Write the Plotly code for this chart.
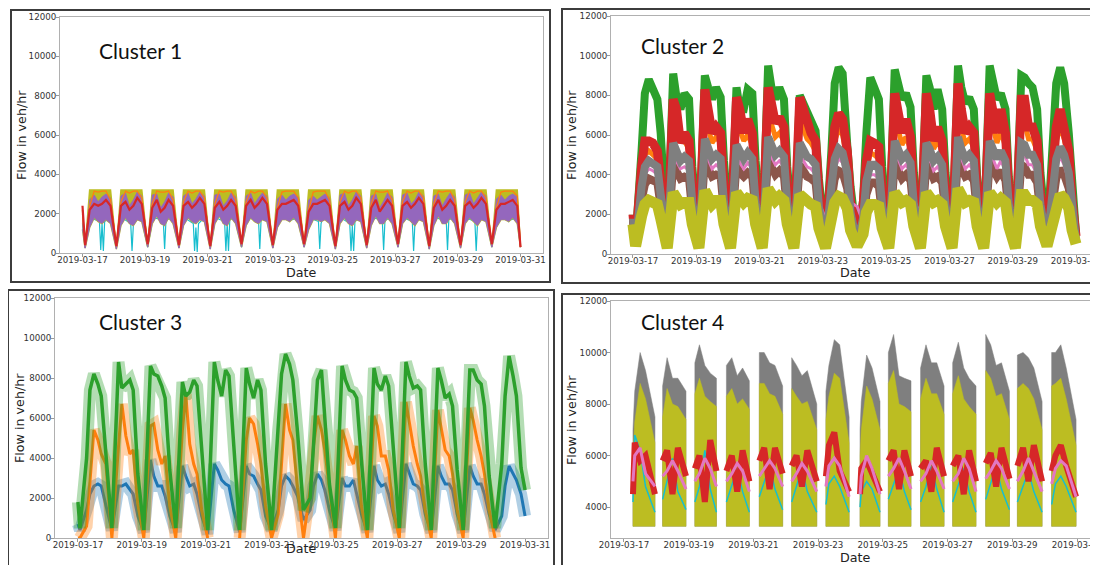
import plotly.graph_objects as go
import pandas as pd

# ---------------- data ----------------
BASE = "2019-03-17"
X_TICKS = ["2019-03-17", "2019-03-19", "2019-03-21", "2019-03-23",
           "2019-03-25", "2019-03-27", "2019-03-29", "2019-03-31"]
Y_TICKS_A = [0, 2000, 4000, 6000, 8000, 10000, 12000]
Y_TICKS_B = [4000, 6000, 8000, 10000, 12000]

# ---- Cluster 1: values per day at these hours ----
C1_HOURS = [2, 5.5, 9, 12, 15, 18, 21.5]
C1_START = {"cap": 2200, "orange": 2000, "hi": 2000, "lo": 1200, "red": 2400, "cyan": 1500}
C1_END = {"cap": 300, "orange": 300, "hi": 300, "lo": 300, "red": 300, "cyan": 300}
C1_CAP = [
    [250, 3200, 3200, 3200, 3200, 3200, 3200],
    [200, 3200, 3200, 3200, 3200, 3200, 3200],
    [300, 3200, 3200, 3200, 3200, 3200, 3200],
    [250, 3200, 3200, 3200, 3200, 3200, 3200],
    [200, 3200, 3200, 3200, 3200, 3200, 3200],
    [300, 3200, 3200, 3200, 3200, 3200, 3200],
    [250, 3200, 3200, 3200, 3200, 3200, 3200],
    [300, 3200, 3200, 3200, 3200, 3200, 3200],
    [200, 3200, 3200, 3200, 3200, 3200, 3200],
    [250, 3200, 3200, 3200, 3200, 3200, 3200],
    [300, 3200, 3200, 3200, 3200, 3200, 3200],
    [200, 3200, 3200, 3200, 3200, 3200, 3200],
    [250, 3200, 3200, 3200, 3200, 3200, 3200],
    [300, 3200, 3200, 3200, 3200, 3200, 3200],
]
C1_ORANGE = [
    [400, 2400, 3150, 3100, 3150, 3150, 2700],
    [350, 2600, 3150, 3050, 3150, 3150, 2800],
    [450, 2500, 3150, 3100, 3100, 3150, 2700],
    [400, 2600, 3150, 3050, 3150, 3150, 2800],
    [350, 2500, 3150, 3100, 3150, 3150, 2700],
    [450, 2600, 3150, 3050, 3150, 3150, 2800],
    [400, 2300, 3100, 3150, 3150, 3150, 2800],
    [450, 2200, 3100, 3150, 3150, 3150, 2700],
    [350, 2600, 3150, 3050, 3150, 3150, 2800],
    [400, 2500, 3150, 3100, 3100, 3150, 2700],
    [450, 2600, 3150, 3050, 3150, 3150, 2800],
    [350, 2500, 3150, 3100, 3150, 3150, 2700],
    [400, 2600, 3150, 3050, 3150, 3150, 2800],
    [450, 2300, 3100, 3150, 3150, 3150, 2900],
]
C1_PURPLE_HI = [
    [250, 2700, 2950, 2600, 2850, 3000, 2800],
    [200, 2900, 3050, 2400, 2700, 3100, 2900],
    [300, 2950, 3000, 2300, 2600, 3050, 2850],
    [250, 2900, 3050, 2500, 2750, 3100, 2900],
    [200, 2950, 3000, 2400, 2650, 3050, 2850],
    [300, 2900, 3050, 2500, 2800, 3050, 2900],
    [250, 2750, 2950, 2700, 2900, 3000, 2850],
    [300, 2700, 2900, 2700, 2850, 3000, 2800],
    [200, 2950, 3050, 2400, 2700, 3100, 2900],
    [250, 2900, 3000, 2300, 2650, 3050, 2850],
    [300, 2950, 3050, 2500, 2700, 3100, 2900],
    [200, 2900, 3000, 2400, 2750, 3050, 2850],
    [250, 2950, 3050, 2500, 2800, 3100, 2900],
    [300, 2750, 2950, 2700, 2900, 3000, 2850],
]
C1_PURPLE_LO = [
    [250, 1300, 1800, 1600, 1500, 1700, 1500],
    [200, 1400, 1800, 1500, 1400, 1700, 1600],
    [300, 1500, 1900, 1500, 1400, 1800, 1500],
    [250, 1400, 1800, 1600, 1500, 1700, 1600],
    [200, 1500, 1900, 1500, 1400, 1800, 1500],
    [300, 1400, 1800, 1600, 1500, 1700, 1600],
    [250, 1300, 1700, 1700, 1600, 1800, 1500],
    [300, 1200, 1700, 1700, 1600, 1700, 1500],
    [200, 1500, 1800, 1500, 1400, 1700, 1600],
    [250, 1400, 1900, 1500, 1500, 1800, 1500],
    [300, 1500, 1800, 1600, 1400, 1700, 1600],
    [200, 1400, 1900, 1500, 1500, 1800, 1500],
    [250, 1500, 1800, 1600, 1400, 1700, 1600],
    [300, 1300, 1700, 1700, 1600, 1800, 1500],
]
C1_RED = [
    [400, 2200, 2500, 2400, 2500, 2700, 2400],
    [350, 2400, 2600, 2200, 2400, 2800, 2500],
    [450, 2300, 2700, 2100, 2300, 2700, 2400],
    [400, 2400, 2600, 2300, 2500, 2800, 2500],
    [350, 2300, 2600, 2200, 2400, 2700, 2400],
    [450, 2400, 2700, 2300, 2500, 2800, 2500],
    [400, 2200, 2500, 2500, 2600, 2700, 2400],
    [450, 2100, 2500, 2500, 2600, 2700, 2400],
    [350, 2400, 2600, 2200, 2400, 2800, 2500],
    [400, 2300, 2700, 2100, 2400, 2700, 2400],
    [450, 2400, 2600, 2300, 2500, 2800, 2500],
    [350, 2300, 2700, 2200, 2400, 2700, 2400],
    [400, 2400, 2600, 2300, 2500, 2800, 2500],
    [450, 2200, 2500, 2500, 2600, 2700, 2400],
]
C1_CYAN_HOURS = [2, 6, 13, 14, 15, 16, 17, 21.5]
C1_CYAN = [
    [300, 1800, 1600, 150, 1500, 100, 1600, 1800],
    [300, 1800, 1500, 100, 1400, 1700, 1700, 1800],
    [300, 1800, 1700, 1600, 200, 1600, 1700, 1800],
    [300, 1800, 1500, 100, 1300, 50, 1500, 1800],
    [300, 1800, 1600, 100, 1500, 100, 1700, 1800],
    [300, 1800, 1700, 1600, 1700, 200, 1700, 1800],
    [300, 1800, 1700, 1700, 1600, 1700, 1700, 1800],
    [300, 1800, 1600, 200, 1500, 1700, 1700, 1800],
    [300, 1800, 1500, 100, 1400, 100, 1600, 1800],
    [300, 1800, 1700, 1600, 150, 1600, 1700, 1800],
    [300, 1800, 1600, 100, 1500, 1700, 1700, 1800],
    [300, 1800, 1700, 1600, 1700, 150, 1700, 1800],
    [300, 1800, 1600, 100, 1500, 1700, 1700, 1800],
    [300, 1800, 1700, 1700, 1600, 1700, 1700, 1800],
]

# ---- Cluster 2: values per day at these hours ----
C2_HOURS = [2, 6.5, 9, 12, 15, 18.5, 21]
C2_GREEN = [
    [700, 5200, 8100, 8800, 8300, 7800, 6100],
    [600, 9100, 7900, 7300, 8100, 7800, 4400],
    [500, 9000, 8400, 7800, 8400, 7900, 4700],
    [500, 8400, 7300, 7300, 8300, 8100, 4700],
    [500, 9500, 8400, 7800, 8400, 7800, 4400],
    [500, 8000, 7600, 7000, 6600, 6200, 3800],
    [500, 5200, 8600, 9400, 9100, 5500, 3400],
    [700, 2700, 6100, 8900, 8400, 7800, 4400],
    [500, 9300, 8600, 7800, 8100, 7400, 4100],
    [500, 9000, 8400, 7300, 8300, 7300, 4100],
    [500, 9500, 8400, 7600, 7900, 7300, 3900],
    [500, 9500, 8600, 7800, 8100, 7300, 3900],
    [500, 9000, 8900, 8600, 8400, 7300, 4100],
    [700, 5200, 8600, 9400, 8600, 6100, 3400],
]
C2_RED = [
    [600, 4400, 5700, 5700, 5600, 5200, 3600],
    [600, 7800, 7300, 5600, 6100, 5700, 3400],
    [500, 8300, 7300, 6100, 6400, 6100, 3400],
    [500, 7900, 7300, 6100, 6800, 6100, 3400],
    [500, 8400, 7600, 6600, 6900, 6400, 3400],
    [500, 7900, 7400, 6600, 6100, 5700, 3100],
    [500, 4400, 6400, 7100, 6800, 5200, 2700],
    [700, 2400, 4700, 5700, 5600, 5400, 3100],
    [500, 8100, 7100, 6100, 6800, 5900, 3100],
    [500, 8100, 7300, 5700, 6400, 5700, 3100],
    [500, 8600, 7300, 6100, 6400, 6100, 3100],
    [500, 8100, 7300, 6100, 7300, 6100, 3100],
    [500, 7800, 7800, 6400, 6400, 5700, 3100],
    [700, 4100, 6400, 7300, 6400, 5200, 2700],
]
C2_ORANGE = [
    [600, 3800, 5000, 5200, 5000, 4800, 3300],
    [500, 6900, 6400, 5900, 5700, 5300, 3000],
    [500, 7000, 6300, 5600, 5900, 5600, 3000],
    [500, 6700, 6300, 5700, 6000, 5500, 3000],
    [500, 7100, 6600, 5900, 6100, 5700, 3000],
    [500, 6800, 6400, 5800, 5600, 5200, 2800],
    [500, 3900, 5700, 6300, 6000, 4700, 2400],
    [600, 2100, 4200, 5100, 5000, 4800, 2800],
    [500, 7000, 6300, 5500, 5900, 5300, 2800],
    [500, 6900, 6400, 5300, 5700, 5200, 2800],
    [500, 7200, 6300, 5600, 5800, 5400, 2800],
    [500, 7000, 6400, 5600, 6200, 5400, 2800],
    [500, 6800, 6600, 5800, 5800, 5200, 2800],
    [600, 3700, 5700, 6400, 5800, 4700, 2400],
]
C2_GRAY = [
    [500, 3400, 4400, 4700, 4600, 4400, 3000],
    [500, 5600, 5200, 4700, 4900, 4700, 2600],
    [400, 5800, 5300, 4800, 5000, 4800, 2600],
    [400, 5500, 5100, 4800, 5100, 4800, 2600],
    [400, 5900, 5400, 5000, 5200, 4900, 2600],
    [400, 5600, 5200, 4900, 4800, 4500, 2400],
    [400, 3400, 4800, 5300, 5100, 4100, 2100],
    [500, 1800, 3700, 4500, 4500, 4300, 2400],
    [400, 5700, 5300, 4800, 5000, 4600, 2500],
    [400, 5600, 5300, 4700, 4900, 4500, 2500],
    [400, 5900, 5300, 4800, 5000, 4700, 2500],
    [400, 5700, 5300, 4800, 5200, 4700, 2500],
    [400, 5600, 5500, 5000, 5000, 4500, 2500],
    [500, 3300, 4800, 5400, 5000, 4100, 2100],
]
C2_PINK = [
    [600, 3000, 4000, 4300, 4200, 4000, 2800],
    [500, 5000, 4700, 4300, 4400, 4200, 2400],
    [400, 5200, 4800, 4300, 4500, 4300, 2400],
    [400, 5000, 4600, 4300, 4600, 4300, 2400],
    [400, 5300, 4900, 4500, 4700, 4400, 2400],
    [400, 5000, 4700, 4400, 4300, 4000, 2600],
    [1800, 3200, 4300, 4800, 4600, 3700, 2600],
    [2400, 1600, 3300, 4000, 4000, 3800, 2200],
    [400, 5100, 4800, 4300, 4500, 4100, 2800],
    [1900, 5000, 4800, 4200, 4400, 4000, 2300],
    [400, 5300, 4800, 4300, 4500, 4200, 2300],
    [400, 5100, 4800, 4300, 4700, 4200, 2300],
    [400, 5000, 5000, 4500, 4500, 4000, 2300],
    [500, 3000, 4300, 4900, 4500, 3700, 1900],
]
C2_BROWN = [
    [500, 2700, 3500, 3800, 3700, 3600, 2400],
    [400, 4500, 4200, 3800, 3900, 3800, 2100],
    [400, 4700, 4300, 3900, 4000, 3900, 2100],
    [400, 4500, 4100, 3900, 4100, 3900, 2100],
    [400, 4800, 4400, 4000, 4200, 3900, 2100],
    [400, 4500, 4200, 3900, 3800, 3600, 1900],
    [400, 2700, 3800, 4200, 4100, 3300, 1700],
    [500, 1400, 3000, 3600, 3600, 3400, 1900],
    [400, 4600, 4300, 3800, 4000, 3700, 2000],
    [400, 4500, 4300, 3800, 3900, 3600, 2000],
    [400, 4800, 4300, 3900, 4000, 3700, 2000],
    [400, 4600, 4300, 3900, 4200, 3700, 2000],
    [400, 4500, 4400, 4000, 4000, 3600, 2000],
    [500, 2600, 3800, 4300, 4000, 3300, 1700],
]
C2_OLIVE = [
    [400, 1900, 2500, 2700, 2600, 2500, 1800],
    [300, 3100, 2800, 2500, 2600, 2600, 1500],
    [300, 3200, 2900, 2500, 2700, 2700, 1500],
    [300, 3100, 2800, 2600, 2800, 2700, 1500],
    [300, 3300, 3000, 2700, 2900, 2700, 1500],
    [300, 3000, 2800, 2600, 2500, 2400, 1300],
    [300, 1900, 2600, 2900, 2800, 2300, 1200],
    [400, 1000, 2100, 2500, 2500, 2400, 1300],
    [300, 3100, 2900, 2600, 2700, 2500, 1400],
    [300, 3100, 2900, 2600, 2700, 2500, 1400],
    [300, 3300, 2900, 2600, 2700, 2600, 1400],
    [300, 3100, 2900, 2600, 2800, 2600, 1400],
    [300, 3000, 3000, 2700, 2700, 2500, 1400],
    [400, 1800, 2600, 3000, 2800, 2300, 1200],
]
C2_START = {"green": 2000, "red": 2000, "orange": 1900, "gray": 1800,
            "pink": 1700, "brown": 1700, "olive": 1500}
C2_END = {"green": 1000, "red": 900, "orange": 800, "gray": 700,
          "pink": 700, "brown": 600, "olive": 500}

# ---- Cluster 3: values per day at these hours ----
C3_HOURS = [1.5, 6.5, 9, 12, 15, 17.5, 21]
C3_GREEN = [
    [500, 4000, 7400, 8200, 7700, 7100, 4200],
    [500, 8800, 7500, 7700, 7900, 7400, 3200],
    [400, 8600, 8200, 8100, 7600, 7000, 3400],
    [500, 7800, 7100, 7300, 7900, 7600, 4500],
    [400, 8800, 7900, 7100, 8400, 8100, 4700],
    [400, 8500, 7700, 7000, 7900, 7400, 3700],
    [400, 5400, 8200, 9200, 8700, 7900, 5300],
    [1400, 2000, 4600, 7900, 8400, 6100, 2700],
    [500, 8600, 7900, 7400, 7300, 7000, 3900],
    [400, 8500, 7700, 7400, 8100, 7600, 4600],
    [500, 8800, 8100, 7500, 7600, 7400, 3700],
    [400, 8500, 7900, 7000, 7200, 6600, 3400],
    [400, 8400, 8400, 7900, 7700, 6600, 3100],
    [500, 3700, 7100, 9100, 8100, 7100, 3500],
]
C3_ORANGE = [
    [0, 600, 2900, 5400, 4900, 4200, 3700],
    [0, 4600, 6700, 5100, 4200, 4400, 1700],
    [0, 5600, 5700, 4400, 3700, 4100, 1600],
    [0, 5400, 7200, 4700, 3700, 3200, 1400],
    [0, None, None, None, None, None, None],
    [0, 4900, 6000, 5700, 4700, 3700, 1600],
    [0, 1200, 3700, 6700, 5400, 4900, 2500],
    [0, 2400, 4600, 6100, 5400, 4400, 2400],
    [0, 5400, 4900, 4100, 3700, 4600, 1600],
    [0, 6100, 5600, 4100, 4100, 3400, 1400],
    [0, 6800, 5700, 4600, 3700, 3100, 1400],
    [0, 6400, 5400, 4400, 4100, 3200, 1400],
    [0, 6500, 5900, 4900, 4100, 3200, 1400],
    [0, None, None, None, None, None, None],
]
C3_BLUE = [
    [400, 1400, 2200, 2600, 2700, 2600, 1600],
    [400, 2600, 2600, 2700, 2400, 2200, 1100],
    [300, 3900, 3100, 2600, 2600, 2100, 1100],
    [300, 3600, 3100, 2600, 2700, 2200, 1100],
    [200, 3700, 3400, 2900, 2700, 2600, 1400],
    [300, 3600, 3200, 3100, 2700, 2400, 1100],
    [400, 1400, 2600, 3100, 2900, 2600, 2100],
    [900, 1400, 2600, 3200, 2900, 2400, 1400],
    [400, 3000, 2600, 2600, 2900, 2200, 1200],
    [300, 3600, 2900, 2600, 2700, 2200, 1200],
    [300, 3700, 3200, 2700, 2600, 2400, 1200],
    [300, 3600, 3100, 2700, 2700, 2400, 1200],
    [300, 3600, 3100, 2700, 2700, 2200, 1200],
    [400, 1100, 2600, 3600, 3200, 2900, 2200],
]
C3_START = {"green": 1800, "orange": 0, "blue": 700}
C3_END = {"green": 2400, "orange": None, "blue": 1100}

# ---- Cluster 4: daytime blocks (values below ~3250 are absent) ----
C4_FLOOR = 3250
C4_START_H = [6.7, 4.7, 4.6, 4.0, 4.4, 4.4, 5.8, 7.1, 4.1, 4.0, 3.8, 4.3, 3.8, 5.2]
C4_END_H = [23.0, 22.0, 20.6, 21.0, 21.7, 23.0, 23.0, 21.9, 20.9, 21.4, 21.1, 21.9, 22.1, 23.3]
C4_TOP_HOURS = [8, 12, 16]
# values at [block start, 8h, 12h, 16h, block end]
C4_GRAY = [
    [7000, 8500, 10000, 9300, 7500],
    [8700, 9800, 9000, 9000, 8500],
    [9600, 10300, 9500, 9200, 9000],
    [9500, 9800, 9100, 9400, 8900],
    [10000, 10000, 9600, 9500, 8700],
    [9800, 9500, 9100, 9300, 8000],
    [8500, 9500, 10500, 10300, 7500],
    [7000, 8100, 9900, 9400, 8100],
    [10000, 10700, 9100, 9000, 8900],
    [9400, 10300, 9600, 9600, 8700],
    [9600, 10400, 9400, 9000, 8700],
    [10700, 10300, 9500, 9600, 8500],
    [9900, 10000, 9800, 9400, 8100],
    [10000, 10000, 10300, 9400, 7400],
]
C4_OLIVE = [
    [6000, 7300, 8800, 8200, 6500],
    [7500, 8600, 8000, 7900, 7400],
    [8400, 9000, 8300, 8100, 7900],
    [8300, 8600, 8000, 8200, 7800],
    [8800, 8800, 8400, 8300, 7600],
    [8600, 8300, 8000, 8100, 7000],
    [7400, 8300, 9200, 9000, 6500],
    [6000, 7000, 8700, 8200, 7000],
    [8800, 9300, 8000, 7900, 7700],
    [8200, 9000, 8400, 8400, 7600],
    [8400, 9100, 8200, 7900, 7600],
    [9300, 9000, 8300, 8400, 7400],
    [8600, 8800, 8600, 8200, 7000],
    [8700, 8800, 9000, 8200, 6400],
]
C4_RED = [
    [4500, 6500, 5800, 6000, 4500],
    [5800, 6200, 4500, 6300, 5200],
    [5500, 6000, 4200, 6600, 5400],
    [5400, 6000, 4600, 6200, 5000],
    [5800, 6300, 4700, 6300, 5300],
    [5600, 6000, 4800, 6200, 5000],
    [5200, 6400, 6900, 5400, 4600],
    [4500, 5500, 5800, 5300, 4600],
    [5800, 6200, 4700, 6200, 5200],
    [5500, 5800, 4600, 6300, 5200],
    [5600, 6000, 4500, 6200, 5000],
    [5700, 6100, 4800, 6300, 5100],
    [5600, 6300, 5000, 6400, 5000],
    [5400, 6000, 6400, 5600, 4400],
]
C4_PINK = [
    [5000, 6000, 6300, 5300, 4800],
    [5200, 5400, 5800, 5400, 4700],
    [5000, 5300, 5900, 5500, 4800],
    [5000, 5300, 5700, 5400, 4600],
    [5200, 5500, 5800, 5500, 4800],
    [5000, 5300, 5700, 5400, 4600],
    [4800, 5600, 5900, 5600, 4400],
    [4500, 5200, 6000, 5500, 4500],
    [5200, 5500, 5900, 5400, 4700],
    [5000, 5300, 5800, 5400, 4700],
    [5000, 5300, 5900, 5500, 4600],
    [5100, 5400, 5800, 5500, 4700],
    [5000, 5400, 5900, 5400, 4600],
    [4900, 5500, 5800, 5600, 4400],
]
C4_CYAN = [
    [4200, 6800, 6200, 4800, 3800],
    [4300, 5000, 5900, 4600, 3900],
    [4200, 4800, 6200, 4700, 3800],
    [4200, 4900, 5500, 4600, 3800],
    [4400, 5000, 5600, 4700, 3900],
    [4200, 4800, 5500, 4600, 3800],
    [4100, 4900, 5200, 4800, 3800],
    [4000, 4600, 5000, 4700, 3800],
    [4300, 4900, 5500, 4600, 3900],
    [4200, 4800, 5600, 4700, 3800],
    [4200, 4900, 5500, 4600, 3800],
    [4300, 4900, 5600, 4700, 3900],
    [4200, 4800, 5400, 4600, 3800],
    [4100, 4900, 5200, 4800, 3800],
]

# ---------------- helpers ----------------
BASE_TS = pd.Timestamp(BASE)


def ts(d, h):
    return (BASE_TS + pd.Timedelta(days=d, hours=h)).strftime("%Y-%m-%d %H:%M:%S")


def line_xy(hours, per_day, start=None, end=None):
    xs, ys = [], []
    if start is not None:
        xs.append(ts(0, 0)); ys.append(start)
    for d, vals in enumerate(per_day):
        for h, v in zip(hours, vals):
            xs.append(ts(d, h)); ys.append(v)
    if end is not None:
        xs.append(ts(len(per_day), 0)); ys.append(end)
    return xs, ys


def band_xy(hours, hi, lo, start, end):
    xh, yh = line_xy(hours, hi, start[0], end[0])
    xl, yl = line_xy(hours, lo, start[1], end[1])
    return xh + xl[::-1], yh + yl[::-1]


def block_hours(d):
    return [C4_START_H[d]] + C4_TOP_HOURS + [C4_END_H[d]]


def blocks_xy(tops, floor):
    xs, ys = [], []
    for d, vals in enumerate(tops):
        hs = block_hours(d)
        xs += [ts(d, hs[0])] + [ts(d, h) for h in hs] + [ts(d, hs[-1]), None]
        ys += [floor] + list(vals) + [floor, None]
    return xs, ys


def block_lines_xy(per_day):
    xs, ys = [], []
    for d, vals in enumerate(per_day):
        xs += [ts(d, h) for h in block_hours(d)] + [None]
        ys += list(vals) + [None]
    return xs, ys


C = {"blue": "#1f77b4", "orange": "#ff7f0e", "green": "#2ca02c", "red": "#d62728",
     "purple": "#9467bd", "brown": "#8c564b", "pink": "#e377c2", "gray": "#7f7f7f",
     "olive": "#bcbd22", "cyan": "#17becf"}

fig = go.Figure()


def add_line(x, y, color, width, ax, opacity=1.0):
    fig.add_trace(go.Scatter(x=x, y=y, mode="lines", xaxis="x" + ax, yaxis="y" + ax,
                             line=dict(color=color, width=width), opacity=opacity,
                             hoverinfo="skip", showlegend=False, connectgaps=False))


def add_poly(x, y, color, ax, lw=0.5):
    fig.add_trace(go.Scatter(x=x, y=y, mode="lines", fill="toself", fillcolor=color,
                             xaxis="x" + ax, yaxis="y" + ax,
                             line=dict(color=color, width=lw), hoverinfo="skip",
                             showlegend=False))


# ---- Cluster 1 ----
x, y = line_xy(C1_CYAN_HOURS, C1_CYAN, C1_START["cyan"], C1_END["cyan"])
add_line(x, y, C["cyan"], 1.2, "")
x, y = band_xy(C1_HOURS, C1_CAP, C1_PURPLE_LO, (C1_START["cap"], C1_START["lo"]),
               (C1_END["cap"], C1_END["lo"]))
add_poly(x, y, C["olive"], "", 1.5)
x, y = band_xy(C1_HOURS, C1_PURPLE_HI, C1_PURPLE_LO, (C1_START["hi"], C1_START["lo"]),
               (C1_END["hi"], C1_END["lo"]))
add_poly(x, y, C["purple"], "", 0.8)
x, y = line_xy(C1_HOURS, C1_ORANGE, C1_START["orange"], C1_END["orange"])
add_line(x, y, C["orange"], 1.3, "")
x, y = line_xy(C1_HOURS, C1_RED, C1_START["red"], C1_END["red"])
add_line(x, y, C["red"], 2.2, "")

# ---- Cluster 2 ----
for name, arr, w in [("orange", C2_ORANGE, 5), ("green", C2_GREEN, 8), ("red", C2_RED, 9),
                     ("brown", C2_BROWN, 8), ("pink", C2_PINK, 3), ("gray", C2_GRAY, 8),
                     ("olive", C2_OLIVE, 11)]:
    x, y = line_xy(C2_HOURS, arr, C2_START[name], C2_END[name])
    add_line(x, y, C[name], w, "2")

# ---- Cluster 3 (wide faint underlay shows the noise spread) ----
for name, arr, w in [("blue", C3_BLUE, 3), ("orange", C3_ORANGE, 3), ("green", C3_GREEN, 3.5)]:
    x, y = line_xy(C3_HOURS, arr, C3_START[name], C3_END[name])
    add_line(x, y, C[name], 12, "3", opacity=0.35)
    add_line(x, y, C[name], w, "3")

# ---- Cluster 4 ----
x, y = blocks_xy(C4_GRAY, C4_FLOOR)
add_poly(x, y, C["gray"], "4")
x, y = blocks_xy(C4_OLIVE, C4_FLOOR)
add_poly(x, y, C["olive"], "4")
x, y = block_lines_xy(C4_CYAN)
add_line(x, y, C["cyan"], 1.5, "4")
x, y = block_lines_xy(C4_RED)
add_line(x, y, C["red"], 6, "4")
x, y = block_lines_xy(C4_PINK)
add_line(x, y, C["pink"], 3, "4")

# ---------------- layout ----------------
W, H = 1098, 565
PAGE_OFFSET = 8   # the page body adds an 8px margin before the figure


def px(v):
    return (v - PAGE_OFFSET) / W


def py(v):
    return 1 - (v - PAGE_OFFSET) / H


tickfont = dict(family="DejaVu Sans", size=8.7, color="#333333")
xcommon = dict(type="date", tickmode="array", tickvals=X_TICKS, ticktext=X_TICKS,
               showgrid=False, zeroline=False, showline=True, mirror=True,
               linecolor="#b0b0b0", linewidth=1, ticks="outside", ticklen=3,
               tickcolor="#999999", tickfont=tickfont, automargin=False,
               ticklabelstandoff=-4)
ycommon = dict(showgrid=False, zeroline=False, showline=True, mirror=True,
               linecolor="#b0b0b0", linewidth=1, ticks="outside", ticklen=3,
               tickcolor="#999999", tickfont=tickfont, tickmode="array", automargin=False,
               ticklabelstandoff=-2)

panels = {
    "": dict(x=(60, 543), y=(17, 253), xr=["2019-03-16 06:45", "2019-03-31 17:15"], yr=[0, 12000], yt=Y_TICKS_A),
    "2": dict(x=(611, 1098), y=(16, 254), xr=["2019-03-16 07:20", "2019-03-31 16:40"], yr=[0, 12000], yt=Y_TICKS_A),
    "3": dict(x=(55, 548), y=(298, 538), xr=["2019-03-16 06:45", "2019-03-31 17:15"], yr=[0, 12000], yt=Y_TICKS_A),
    "4": dict(x=(611, 1097), y=(301, 538), xr=["2019-03-16 14:24", "2019-03-31 14:50"], yr=[2800, 12000], yt=Y_TICKS_B),
}
layout = dict(template="none", width=W, height=H, margin=dict(l=0, r=0, t=0, b=0, pad=0),
              autosize=False, paper_bgcolor="white", plot_bgcolor="white", showlegend=False)
for k, p in panels.items():
    xa = dict(xcommon, domain=[max(0, px(p["x"][0])), min(1, px(p["x"][1]))], range=p["xr"],
              anchor="y" + k)
    ya = dict(ycommon, domain=[max(0, py(p["y"][1])), min(1, py(p["y"][0]))], range=p["yr"],
              tickvals=p["yt"], ticktext=[str(v) for v in p["yt"]], anchor="x" + k)
    layout["xaxis" + k] = xa
    layout["yaxis" + k] = ya
fig.update_layout(**layout)

# frames around each panel
frames = [(11, 10, 550, 282), (562, 9, 1110, 283), (8, 290, 554, 580), (562, 294, 1110, 580)]
for x0, y0, x1, y1 in frames:
    fig.add_shape(type="rect", xref="paper", yref="paper", x0=px(x0), x1=px(x1),
                  y0=py(y1), y1=py(y0), line=dict(color="#3c3c3c", width=2))

ann = []
title_font = dict(family="DejaVu Sans", size=12.7, color="#222222")
for (xc, yc) in [(21, 135), (571, 135), (19, 418), (571, 420)]:
    ann.append(dict(x=px(xc), y=py(yc), xref="paper", yref="paper", text="Flow in veh/hr",
                    textangle=-90, showarrow=False, font=title_font,
                    xanchor="center", yanchor="middle"))
for (xc, yc) in [(301, 272), (855, 272), (301, 548), (855, 557)]:
    ann.append(dict(x=px(xc), y=py(yc), xref="paper", yref="paper", text="Date",
                    showarrow=False, font=title_font, xanchor="center", yanchor="middle"))
cl_font = dict(family="Lato", size=21, color="#111111")
for txt, (xc, yc) in [("Cluster 1", (140, 51)), ("Cluster 2", (682, 46)),
                      ("Cluster 3", (140, 321)), ("Cluster 4", (682, 321))]:
    ann.append(dict(x=px(xc), y=py(yc), xref="paper", yref="paper", text=txt,
                    showarrow=False, font=cl_font, xanchor="center", yanchor="middle"))
fig.update_layout(annotations=ann)

fig.write_html("out.html")
